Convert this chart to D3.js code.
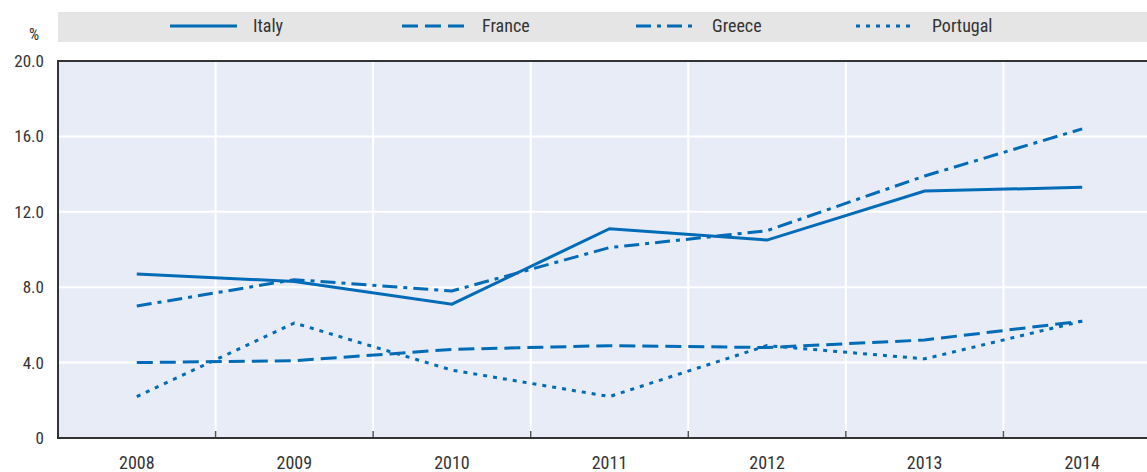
<!DOCTYPE html>
<html>
<head>
<meta charset="utf-8">
<script src="https://cdn.jsdelivr.net/npm/d3@7"></script>
<style>
  body { margin: 0; background: #fff; }
  text { font-family: "Liberation Sans Narrow", "Roboto Condensed", "DejaVu Sans Condensed", sans-serif; fill: #333; }
</style>
</head>
<body>
<div id="chart"></div>
<script>
const years = ["2008", "2009", "2010", "2011", "2012", "2013", "2014"];
const italy = [8.7, 8.3, 7.1, 11.1, 10.5, 13.1, 13.3];
const france = [4.0, 4.1, 4.7, 4.9, 4.8, 5.2, 6.2];
const greece = [7.0, 8.4, 7.8, 10.1, 11.0, 13.9, 16.4];
const portugal = [2.2, 6.1, 3.6, 2.2, 4.9, 4.2, 6.2];
const yTicks = [0, 4, 8, 12, 16, 20];

const series = [
    { name: "Italy", values: italy, dash: null },
    { name: "France", values: france, dash: "16,7" },
    { name: "Greece", values: greece, dash: "15,6,4,6" },
    { name: "Portugal", values: portugal, dash: "4,6" }
];

const width = 1147, height = 472;
const margin = { top: 61, left: 58, bottom: 34 };
const plotRight = 1161; // plot area runs past the right edge of the picture
const lineColor = "#006bb6";

const svg = d3.select("#chart").append("svg")
    .attr("width", width)
    .attr("height", height);

const x = d3.scaleBand()
    .domain(years)
    .range([margin.left, plotRight]);

const y = d3.scaleLinear()
    .domain([0, 20])
    .range([height - margin.bottom, margin.top]);

// plot background
svg.append("rect")
    .attr("x", margin.left)
    .attr("y", margin.top)
    .attr("width", plotRight - margin.left)
    .attr("height", y(0) - margin.top)
    .attr("fill", "#e8ecf6");

// horizontal grid
svg.append("g")
    .selectAll("line")
    .data(yTicks.filter(d => d > 0 && d < 20))
    .enter()
    .append("line")
    .attr("x1", margin.left)
    .attr("x2", plotRight)
    .attr("y1", d => y(d))
    .attr("y2", d => y(d))
    .attr("stroke", "#fff")
    .attr("stroke-width", 2);

// vertical grid at band boundaries
const bounds = years.slice(1).map(d => x(d));
svg.append("g")
    .selectAll("line")
    .data(bounds)
    .enter()
    .append("line")
    .attr("x1", d => d)
    .attr("x2", d => d)
    .attr("y1", margin.top)
    .attr("y2", y(0))
    .attr("stroke", "#fff")
    .attr("stroke-width", 2);

// small ticks on x axis
svg.append("g")
    .selectAll("line")
    .data(bounds)
    .enter()
    .append("line")
    .attr("x1", d => d)
    .attr("x2", d => d)
    .attr("y1", y(0) - 7)
    .attr("y2", y(0))
    .attr("stroke", "#555")
    .attr("stroke-width", 1.5);

// frame: top, left, bottom
svg.append("path")
    .attr("d", `M${plotRight},${margin.top}H${margin.left}V${y(0)}H${plotRight}`)
    .attr("fill", "none")
    .attr("stroke", "#333")
    .attr("stroke-width", 2);

// y labels
svg.append("g")
    .selectAll("text")
    .data(yTicks)
    .enter()
    .append("text")
    .attr("x", 44)
    .attr("y", d => y(d) + 6)
    .attr("text-anchor", "end")
    .style("font-size", "17px")
    .text(d => d === 0 ? "0" : d3.format(".1f")(d));

svg.append("text")
    .attr("x", 34)
    .attr("y", 40)
    .attr("text-anchor", "middle")
    .style("font-size", "16px")
    .text("%");

// x labels
svg.append("g")
    .selectAll("text")
    .data(years)
    .enter()
    .append("text")
    .attr("x", d => x(d) + x.bandwidth() / 2)
    .attr("y", 469)
    .attr("text-anchor", "middle")
    .style("font-size", "18px")
    .text(d => d);

// lines
const line = d3.line()
    .x((d, i) => x(years[i]) + x.bandwidth() / 2)
    .y(d => y(d));

svg.append("g")
    .selectAll("path")
    .data(series)
    .enter()
    .append("path")
    .attr("d", d => line(d.values))
    .attr("fill", "none")
    .attr("stroke", lineColor)
    .attr("stroke-width", 3)
    .attr("stroke-dasharray", d => d.dash);

// legend
svg.append("rect")
    .attr("x", margin.left)
    .attr("y", 12)
    .attr("width", width - margin.left)
    .attr("height", 30)
    .attr("fill", "#e5e5e5");

const legendX = [170, 402, 636, 856];
const legendLen = [67, 64, 60, 60];
const legend = svg.append("g")
    .selectAll("g")
    .data(series)
    .enter()
    .append("g");

legend.append("line")
    .attr("x1", (d, i) => legendX[i])
    .attr("x2", (d, i) => legendX[i] + legendLen[i])
    .attr("y1", 26)
    .attr("y2", 26)
    .attr("stroke", lineColor)
    .attr("stroke-width", 3)
    .attr("stroke-dasharray", d => d.dash);

legend.append("text")
    .attr("x", (d, i) => legendX[i] + legendLen[i] + 16)
    .attr("y", 32)
    .style("font-size", "18px")
    .text(d => d.name);
</script>
</body>
</html>
